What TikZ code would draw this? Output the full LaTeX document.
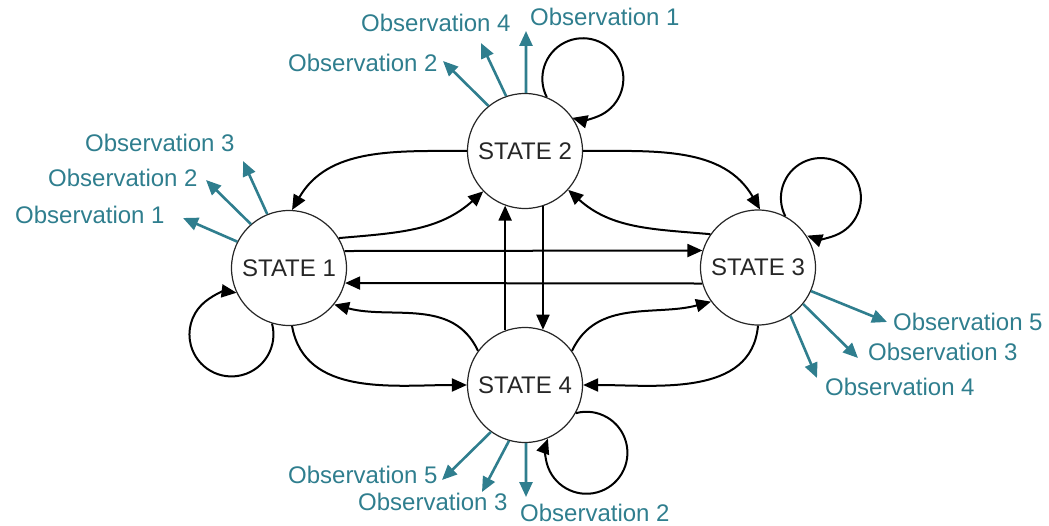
\documentclass[tikz,border=0pt]{standalone}
\usepackage{fontspec}
\setmainfont{Liberation Sans}
\usetikzlibrary{arrows.meta}
\definecolor{obsteal}{RGB}{47,126,142}
\begin{document}
\begin{tikzpicture}[x=1pt,y=1pt,
  state/.style={circle, draw=black!85, line width=1.2pt, minimum size=115pt, inner sep=0pt,
    font=\fontsize{24}{28}\selectfont, text=black!85},
  tr/.style={line width=2pt, -{Triangle[length=15pt,width=13pt]}},
  obs/.style={line width=2.6pt, draw=obsteal, -{Triangle[length=15pt,width=13pt]}, fill=obsteal},
  lbl/.style={text=obsteal, font=\fontsize{24}{28}\selectfont, inner sep=0pt, anchor=west}]
\useasboundingbox (0,0) rectangle (1049,525);

\node[state] (s1) at (289,257) {STATE 1};
\node[state] (s2) at (525,374) {STATE 2};
\node[state] (s3) at (758,257.5) {STATE 3};
\node[state] (s4) at (525,140) {STATE 4};

% straight connectors
\draw[tr] (s1.17) -- (s3.163);
\draw[tr] (s3.196) -- (s1.345);
\draw[tr] (s2.-72) -- (s4.72);
\draw[tr] (s4.110) -- (s2.-110);

% curved connectors
\draw[tr] (s1.31) to[out=5,in=222] (s2.224);
\draw[tr] (s3.145) to[out=175,in=-42] (s2.-42);
\draw[tr] (s2.180) to[out=180,in=60] (s1.87);
\draw[tr] (s2.0) to[out=0,in=120] (s3.88);
\draw[tr] (s4.144) to[out=115,in=-15] (s1.-39);
\draw[tr] (s1.-87) to[out=-80,in=180] (s4.180);
\draw[tr] (s4.36) to[out=65,in=195] (s3.216);
\draw[tr] (s3.-90) to[out=-95,in=0] (s4.0);

% self loops
\draw[tr] (s1.253) arc[start angle=15,end angle=-277,radius=42];
\draw[tr] (s2.68) arc[start angle=207,end angle=-105,radius=40.5];
\draw[tr] (s3.62) arc[start angle=207,end angle=-110,radius=40];
\draw[tr] (s4.-29) arc[start angle=105,end angle=-200,radius=41];

% observations of state 1
\coordinate (t11) at (183,307);
\coordinate (t12) at (206,345);
\coordinate (t13) at (243,364);
\draw[obs] (s1.153) -- (t11);
\draw[obs] (s1.131) -- (t12);
\draw[obs] (s1.112) -- (t13);
\node[lbl] (o11) at (15,310) {Observation 1};
\node[lbl] (o12) at (48,347) {Observation 2};
\node[lbl] (o13) at (85,382) {Observation 3};

% observations of state 2
\coordinate (t22) at (443,464);
\coordinate (t24) at (481,482);
\coordinate (t21) at (526,494);
\draw[obs] (s2.129) -- (t22);
\draw[obs] (s2.109) -- (t24);
\draw[obs] (s2.89) -- (t21);
\node[lbl] (o22) at (288,462) {Observation 2};
\node[lbl] (o24) at (361,502) {Observation 4};
\node[lbl] (o21) at (530,508) {Observation 1};

% observations of state 3
\coordinate (t35) at (887,203);
\coordinate (t33) at (858,167);
\coordinate (t34) at (817,147);
\draw[obs] (s3.-24) -- (t35);
\draw[obs] (s3.-39) -- (t33);
\draw[obs] (s3.-56) -- (t34);
\node[lbl] (o35) at (893,203) {Observation 5};
\node[lbl] (o33) at (868,173) {Observation 3};
\node[lbl] (o34) at (825,138) {Observation 4};

% observations of state 4
\coordinate (t45) at (442,45);
\coordinate (t43) at (482,33);
\coordinate (t42) at (526,28);
\draw[obs] (s4.-126) -- (t45);
\draw[obs] (s4.-106) -- (t43);
\draw[obs] (s4.-89) -- (t42);
\node[lbl] (o45) at (288,50) {Observation 5};
\node[lbl] (o43) at (358,23) {Observation 3};
\node[lbl] (o42) at (520,12) {Observation 2};
\end{tikzpicture}
\end{document}
